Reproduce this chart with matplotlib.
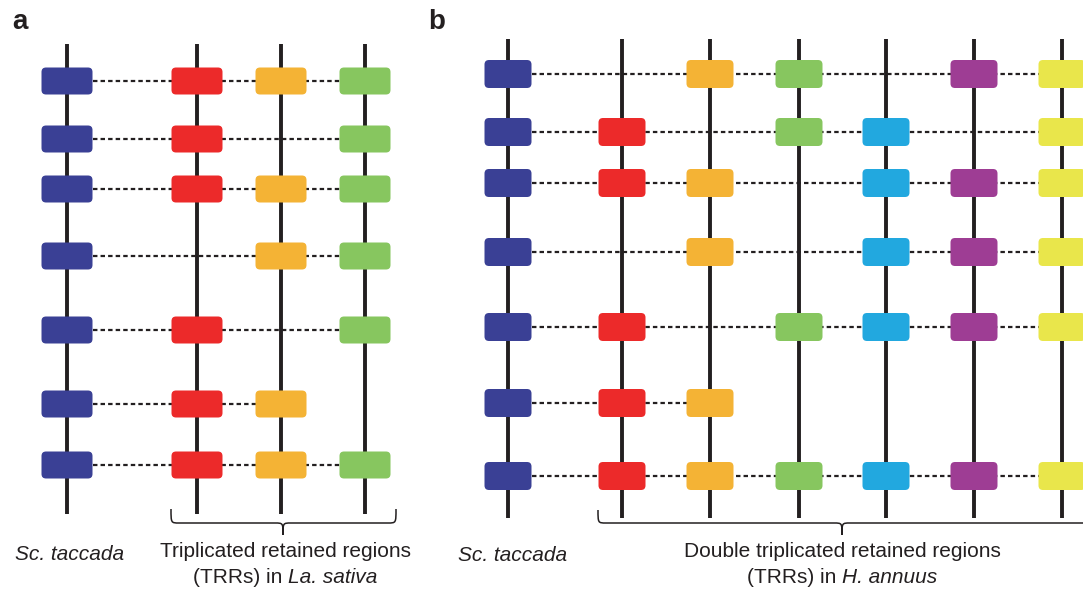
import matplotlib
matplotlib.use("Agg")
import matplotlib.pyplot as plt
from matplotlib.patches import FancyBboxPatch, PathPatch
from matplotlib.path import Path

# ---- data -------------------------------------------------------------
# Panel a: Sc. taccada reference regions and their three La. sativa copies
a_colors = ["#3A4095", "#EC2A2A", "#F4B335", "#87C65F"]
a_presence = [
    [1, 1, 1, 1],
    [1, 1, 0, 1],
    [1, 1, 1, 1],
    [1, 0, 1, 1],
    [1, 1, 0, 1],
    [1, 1, 1, 0],
    [1, 1, 1, 1],
]
a_ref_label = "Sc. taccada"
a_group_label = [[("Triplicated retained regions", "normal")],
                 [("(TRRs) in", "normal"), ("La. sativa", "italic")]]

# Panel b: Sc. taccada reference regions and their six H. annuus copies
b_colors = ["#3A4095", "#EC2A2A", "#F4B335", "#87C65F",
            "#22A8DF", "#9E3D94", "#E9E64B"]
b_presence = [
    [1, 0, 1, 1, 0, 1, 1],
    [1, 1, 0, 1, 1, 0, 1],
    [1, 1, 1, 0, 1, 1, 1],
    [1, 0, 1, 0, 1, 1, 1],
    [1, 1, 0, 1, 1, 1, 1],
    [1, 1, 1, 0, 0, 0, 0],
    [1, 1, 1, 1, 1, 1, 1],
]
b_ref_label = "Sc. taccada"
b_group_label = [[("Double triplicated retained regions", "normal")],
                 [("(TRRs) in", "normal"), ("H. annuus", "italic")]]

# ---- layout (pixel units) --------------------------------------------
W, H = 1083, 592
INK = "#231F20"
FONT = "Liberation Sans"

a_col_x = [67, 197, 281, 365]
a_row_y = [81, 139, 189, 256, 330, 404, 465]
a_box = (51, 27)
a_span = (44, 514)
a_brace = (171, 396, 509, 523, 535)

b_col_x = [508, 622, 710, 799, 886, 974, 1062]
b_row_y = [74, 132, 183, 252, 327, 403, 476]
b_box = (47, 28)
b_span = (39, 518)
b_brace = (598, 1100, 510, 523, 535)

fig = plt.figure(figsize=(W / 100, H / 100), dpi=100)
ax = fig.add_axes([0, 0, 1, 1])
ax.set_xlim(0, W)
ax.set_ylim(H, 0)
ax.axis("off")
renderer = fig.canvas.get_renderer()


def draw_panel(col_x, row_y, presence, colors, box, span):
    bw, bh = box
    for x in col_x:
        ax.plot([x, x], span, color=INK, lw=2.8, solid_capstyle="butt", zorder=1)
    for y, row in zip(row_y, presence):
        present = [x for x, p in zip(col_x, row) if p]
        ax.plot([present[0] + bw / 2, present[-1] - bw / 2], [y, y],
                color=INK, lw=1.6, linestyle=(0, (2, 1.4)), zorder=2)
        for x, p, c in zip(col_x, row, colors):
            if p:
                ax.add_patch(FancyBboxPatch(
                    (x - bw / 2, y - bh / 2), bw, bh,
                    boxstyle="round,pad=0,rounding_size=4.5",
                    facecolor=c, edgecolor="none", zorder=3))


def draw_brace(x0, x1, ytop, yh, ytip, xc=None, r=8):
    if xc is None:
        xc = (x0 + x1) / 2
    verts = [(x0, ytop), (x0, yh), (x0, yh), (x0 + r, yh),
             (xc - r, yh), (xc, yh), (xc, yh), (xc, ytip),
             (xc, yh), (xc, yh), (xc + r, yh),
             (x1 - r, yh), (x1, yh), (x1, yh), (x1, ytop)]
    codes = [Path.MOVETO, Path.CURVE4, Path.CURVE4, Path.CURVE4,
             Path.LINETO, Path.CURVE4, Path.CURVE4, Path.CURVE4,
             Path.CURVE4, Path.CURVE4, Path.CURVE4,
             Path.LINETO, Path.CURVE4, Path.CURVE4, Path.CURVE4]
    ax.add_patch(PathPatch(Path(verts, codes), facecolor="none",
                           edgecolor=INK, lw=1.1, zorder=2))


def text_width(s, style, size):
    t = ax.text(0, 0, s, fontsize=size, fontstyle=style, family=FONT)
    w = t.get_window_extent(renderer).width
    t.remove()
    return w


def rich_line(xc, y, segments, size=15):
    space = text_width("x x", "normal", size) - text_width("xx", "normal", size)
    widths = [text_width(s, st, size) for s, st in segments]
    total = sum(widths) + space * (len(segments) - 1)
    x = xc - total / 2
    for (s, st), w in zip(segments, widths):
        ax.text(x, y, s, fontsize=size, fontstyle=st, family=FONT,
                color=INK, ha="left", va="baseline")
        x += w + space


# panel a
draw_panel(a_col_x, a_row_y, a_presence, a_colors, a_box, a_span)
draw_brace(*a_brace, xc=283)
ax.text(70, 560, a_ref_label, fontsize=15, fontstyle="italic", family=FONT,
        color=INK, ha="center", va="baseline")
rich_line(285, 557, a_group_label[0])
rich_line(285, 583, a_group_label[1])
ax.text(12, 29, "a", fontsize=20, fontweight="bold", family=FONT,
        color=INK, ha="left", va="baseline")

# panel b
draw_panel(b_col_x, b_row_y, b_presence, b_colors, b_box, b_span)
draw_brace(*b_brace, xc=842)
ax.text(513, 561, b_ref_label, fontsize=15, fontstyle="italic", family=FONT,
        color=INK, ha="center", va="baseline")
rich_line(842, 557, b_group_label[0])
rich_line(842, 583, b_group_label[1])
ax.text(428, 29, "b", fontsize=20, fontweight="bold", family=FONT,
        color=INK, ha="left", va="baseline")

fig.savefig("out.png", dpi=100, facecolor="white")
